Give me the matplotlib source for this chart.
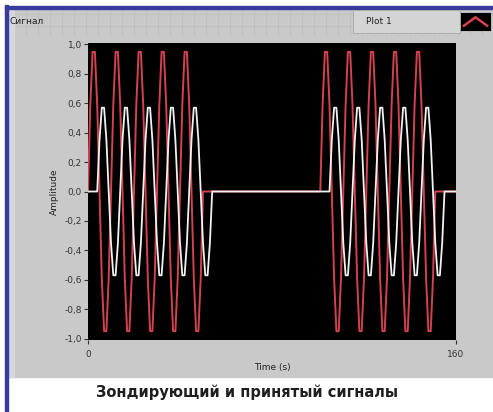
import matplotlib.pyplot as plt
import numpy as np
from matplotlib.patches import Rectangle

# one period of the sampled probe signal (1 s samples, period 10 s)
red_period = [0.00, 0.59, 0.95, 0.95, 0.59, 0.00, -0.59, -0.95, -0.95, -0.59]
# received echo: weaker copy
white_period = [0.00, 0.35, 0.57, 0.57, 0.35, 0.00, -0.35, -0.57, -0.57, -0.35]
n_periods = 5
red_starts = [0, 101]
white_starts = [4, 105]
t = np.arange(0, 161)

y_ticks = [1.0, 0.8, 0.6, 0.4, 0.2, 0.0, -0.2, -0.4, -0.6, -0.8, -1.0]
x_ticks = [0, 160]

red = np.zeros(len(t))
for s in red_starts:
    red[s:s + 10 * n_periods] = red_period * n_periods
white = np.zeros(len(t))
for s in white_starts:
    white[s:s + 10 * n_periods] = white_period * n_periods

fig = plt.figure(figsize=(4.93, 4.12), dpi=100)
fig.patch.set_facecolor('white')

W, H = 493, 412
def fx(px): return px / W
def fy(py): return 1 - py / H

# grey front panel + blue frame
fig.patches.append(Rectangle((fx(8), fy(377)), 1 - fx(8), fy(8) - fy(377),
                             transform=fig.transFigure, color='#c9c9c9', zorder=-5))
fig.patches.append(Rectangle((fx(8), fy(377)), fx(6), fy(8) - fy(377),
                             transform=fig.transFigure, color='#d6d6dc', zorder=-4))
fig.patches.append(Rectangle((fx(5), 0), fx(3), fy(5), transform=fig.transFigure,
                             color='#3a3a9c', zorder=-3))
fig.patches.append(Rectangle((fx(5), fy(9)), 1 - fx(5), fy(6) - fy(9),
                             transform=fig.transFigure, color='#3a3a9c', zorder=-3))
# faint panel grid in the header strip
for gx in range(14, 493, 12):
    fig.add_artist(plt.Line2D([fx(gx), fx(gx)], [fy(36), fy(10)], transform=fig.transFigure,
                              color='#bdbdbd', lw=0.5, zorder=-4))
for gy in range(14, 38, 12):
    fig.add_artist(plt.Line2D([fx(9), 1], [fy(gy), fy(gy)], transform=fig.transFigure,
                              color='#bdbdbd', lw=0.5, zorder=-4))

ax = fig.add_axes([fx(88), fy(340), fx(456) - fx(88), fy(43) - fy(340)])
ax.set_facecolor('black')
ax.plot(t, red, color='#d4424e', lw=1.4)
ax.plot(t, white, color='#f2f2f2', lw=1.3)
ax.set_xlim(0, 160)
ax.set_ylim(-1.01, 1.01)
ax.set_yticks(y_ticks)
ax.set_yticklabels([f'{v:.1f}'.replace('.', ',') for v in y_ticks])
ax.set_xticks(x_ticks)
ax.tick_params(axis='y', labelsize=6.5, colors='#333333', length=3, width=0.8, pad=1.5)
ax.tick_params(axis='x', labelsize=6.5, colors='#333333', length=3, width=0.8, pad=4)
for sp in ax.spines.values():
    sp.set_visible(False)
ax.set_ylabel('Amplitude', fontsize=6.5, color='#222222', labelpad=4)
ax.set_xlabel('Time (s)', fontsize=6.5, color='#222222', labelpad=3)

fig.text(fx(10), fy(22), 'Сигнал', fontsize=6.5, color='#222222', va='center')

# legend box
fig.patches.append(Rectangle((fx(353), fy(33)), fx(107), fy(10) - fy(33),
                             transform=fig.transFigure, facecolor='#d4d4d4',
                             edgecolor='#a8a8a8', lw=0.6, zorder=-2))
fig.text(fx(366), fy(21), 'Plot 1', fontsize=6.5, color='#222222', va='center')
lax = fig.add_axes([fx(461), fy(30), fx(29), fy(13) - fy(30)])
lax.set_facecolor('black')
lax.plot([0.1, 0.5, 0.9], [0.25, 0.75, 0.25], color='#d4424e', lw=1.8)
lax.set_xlim(0, 1)
lax.set_ylim(0, 1)
lax.set_xticks([])
lax.set_yticks([])

fig.text(fx(247), fy(392), 'Зондирующий и принятый сигналы', fontsize=10.5,
         fontweight='bold', color='#1e1e1e', ha='center', va='center')

fig.savefig('out.png', dpi=100)
